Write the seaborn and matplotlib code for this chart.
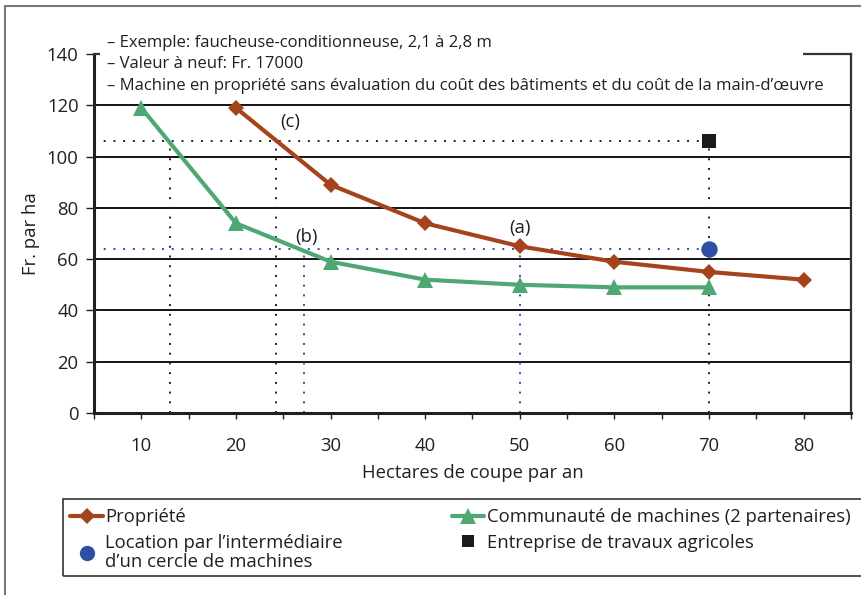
import matplotlib
matplotlib.use("Agg")
import matplotlib.pyplot as plt
from matplotlib.lines import Line2D
from matplotlib.patches import Rectangle
import pandas as pd
import seaborn as sns

sns.set_theme(style="white")
plt.rcParams['font.family'] = ['Open Sans', 'DejaVu Sans']
plt.rcParams['text.color'] = '#231f20'

# Data
hectares_prop = [20, 30, 40, 50, 60, 70, 80]
cost_prop = [119, 89, 74, 65, 59, 55, 52]
hectares_comm = [10, 20, 30, 40, 50, 60, 70]
cost_comm = [119, 74, 59, 52, 50, 49, 49]
hectares_loc = [70]
cost_loc = [64]
hectares_entr = [70]
cost_entr = [106]

# reference (dotted) readings
black_cross = [13, 24.2]
blue_cross = [27.2, 50]

x_ticks = [10, 20, 30, 40, 50, 60, 70, 80]
y_ticks = [0, 20, 40, 60, 80, 100, 120, 140]

notes = ["\u2013 Exemple: faucheuse-conditionneuse, 2,1 \u00e0 2,8 m",
         "\u2013 Valeur \u00e0 neuf: Fr. 17000",
         "\u2013 Machine en propri\u00e9t\u00e9 sans \u00e9valuation du co\u00fbt des b\u00e2timents et du co\u00fbt de la main-d\u2019\u0153uvre"]

labels = ["Propri\u00e9t\u00e9",
          "Communaut\u00e9 de machines (2 partenaires)",
          "Location par l\u2019interm\u00e9diaire\nd\u2019un cercle de machines",
          "Entreprise de travaux agricoles"]

brown = "#a5441c"
green = "#4fa874"
blue = "#2f4fa2"
dark = "#231f20"
fs = 13.3

df_prop = pd.DataFrame({"ha": hectares_prop, "cost": cost_prop})
df_comm = pd.DataFrame({"ha": hectares_comm, "cost": cost_comm})

fig = plt.figure(figsize=(8.62, 5.95), dpi=100)
ax = fig.add_axes([94/862, 1-413/595, (851-94)/862, (413-54)/595])

# horizontal grid
for y in y_ticks[1:-1]:
    ax.axhline(y, color="black", lw=1.3, zorder=1)

# dotted reading lines
ent = cost_entr[0]
loc = cost_loc[0]
dots = (0, (1, 4))
ax.hlines(ent, 5, hectares_entr[0], colors=dark, linestyles=dots, lw=1.4, zorder=1.5)
ax.vlines(black_cross, 0, ent, colors=dark, linestyles=dots, lw=1.4, zorder=1.5)
ax.vlines(hectares_entr[0], 0, ent, colors=dark, linestyles=dots, lw=1.4, zorder=1.5)
ax.hlines(loc, 5, hectares_loc[0], colors=blue, linestyles=dots, lw=1.4, zorder=1.6)
ax.vlines(blue_cross, 0, loc, colors=blue, linestyles=dots, lw=1.4, zorder=1.6)

sns.lineplot(data=df_comm, x="ha", y="cost", color=green, lw=3, marker="^",
             markersize=11, markeredgewidth=0, ax=ax, zorder=3)
sns.lineplot(data=df_prop, x="ha", y="cost", color=brown, lw=3, marker="D",
             markersize=8.5, markeredgewidth=0, ax=ax, zorder=3)
sns.scatterplot(x=hectares_loc, y=cost_loc, color=blue, s=140, marker="o",
                linewidth=0, ax=ax, zorder=4)
sns.scatterplot(x=hectares_entr, y=cost_entr, color="#1a1a1a", s=100, marker="s",
                linewidth=0, ax=ax, zorder=4)

ax.text(25.7, 113.5, "(c)", fontsize=fs, ha="center", va="center")
ax.text(27.5, 68.5, "(b)", fontsize=fs, ha="center", va="center")
ax.text(50, 72, "(a)", fontsize=fs, ha="center", va="center")

ax.set_xlim(5, 85)
ax.set_ylim(0, 140)
ax.set_xticks(x_ticks)
ax.set_xticks([5, 15, 25, 35, 45, 55, 65, 75, 85], minor=True)
ax.set_yticks(y_ticks)
ax.tick_params(axis="x", which="both", direction="out", length=4, width=1,
               color=dark, pad=13, labelsize=fs, labelcolor=dark, bottom=True)
ax.tick_params(axis="y", direction="out", length=6, width=1, color=dark,
               pad=5, labelsize=fs, labelcolor=dark, left=True)
ax.set_xlabel("Hectares de coupe par an", fontsize=fs, color=dark, labelpad=7)
ax.set_ylabel("Fr. par ha", fontsize=fs, color=dark, labelpad=5)

for side in ["left", "bottom"]:
    ax.spines[side].set_color(dark)
    ax.spines[side].set_linewidth(2.2)
for side in ["top", "right"]:
    ax.spines[side].set_color("#333333")
    ax.spines[side].set_linewidth(1.6)

# white box behind the notes hides the top of the frame
ax.add_patch(Rectangle(((100-94)/757, 0.96), (803-100)/757, 0.12, transform=ax.transAxes,
                       facecolor="white", edgecolor="none", clip_on=False, zorder=5))
fig.text(107/862, 1-35/595, "\n".join(notes), fontsize=12, va="top", ha="left",
         linespacing=1.45, color=dark, zorder=6)

handles = [
    Line2D([], [], color=brown, lw=3, marker="D", markersize=8.5, markeredgewidth=0),
    Line2D([], [], color=blue, lw=0, marker="o", markersize=11, markeredgewidth=0),
    Line2D([], [], color=green, lw=3, marker="^", markersize=11, markeredgewidth=0),
    Line2D([], [], color="#1a1a1a", lw=0, marker="s", markersize=8, markeredgewidth=0),
]
leg = fig.legend(handles, [labels[0], labels[2], labels[1], labels[3]], ncol=2,
                 loc="upper left", bbox_to_anchor=(63/862, 1-501/595),
                 frameon=False, fontsize=fs, handlelength=1.75, handletextpad=0.15,
                 borderpad=0.4, labelspacing=0.4, columnspacing=5.9, borderaxespad=0)
for t in leg.get_texts():
    t.set_color(dark)
    t.set_linespacing(1.1)

# legend frame runs off the right edge
fig.add_artist(Rectangle((63/862, 1-576/595), 1.0, 77/595, transform=fig.transFigure,
                         facecolor="none", edgecolor="#333333", lw=1.2))

# outer frame
fig.add_artist(Line2D([5/862, 5/862], [0, 1-6/595], color="#777777", lw=1.5))
fig.add_artist(Line2D([5/862, 1], [1-6/595, 1-6/595], color="#777777", lw=1.5))

fig.savefig("out.png", dpi=100)
